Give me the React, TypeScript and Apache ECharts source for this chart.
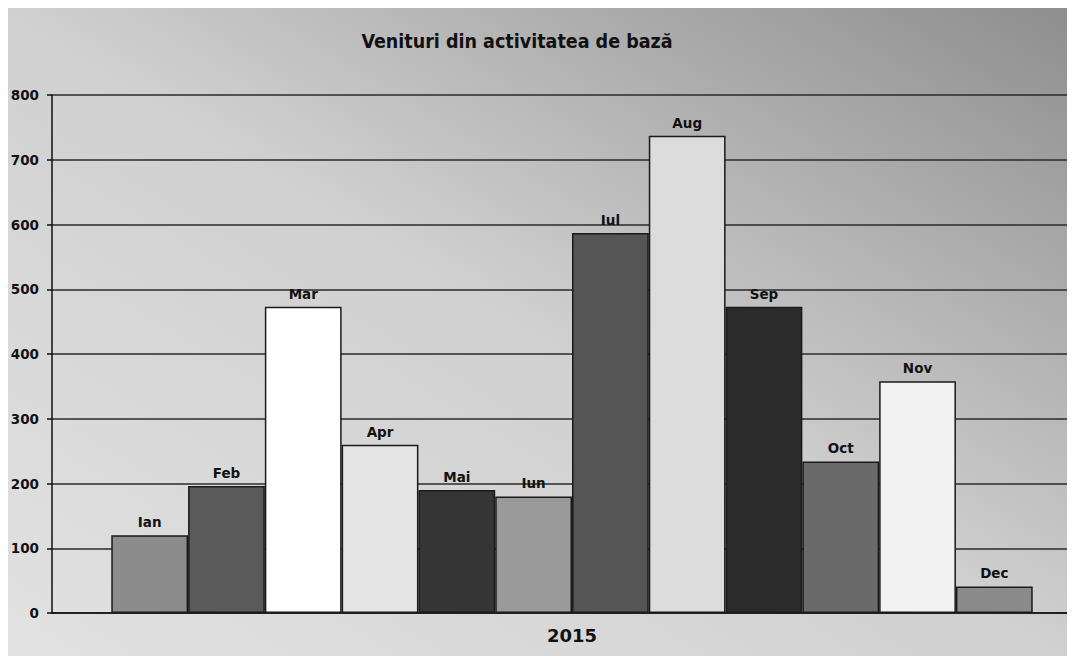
import React, { useEffect, useRef } from "react";
import * as echarts from "echarts";

const title = "Venituri din activitatea de bază";
const categories = ["2015"];
const months = ["Ian", "Feb", "Mar", "Apr", "Mai", "Iun", "Iul", "Aug", "Sep", "Oct", "Nov", "Dec"];
const values = [120, 196, 473, 260, 190, 180, 587, 737, 473, 234, 358, 41];
const colors = ["#8c8c8c", "#5a5a5a", "#ffffff", "#e4e4e4", "#353535", "#9a9a9a", "#555555", "#dcdcdc", "#2b2b2b", "#6a6a6a", "#f2f2f2", "#8a8a8a"];

export default function App() {
  const ref = useRef<HTMLDivElement>(null);
  useEffect(() => {
    const chart = echarts.init(ref.current!, null, { renderer: "svg" });
    chart.setOption({
      animation: false,
      backgroundColor: new echarts.graphic.LinearGradient(0, 1, 1, 0, [
        { offset: 0, color: "#e2e2e2" },
        { offset: 0.5, color: "#d0d0d0" },
        { offset: 1, color: "#8e8e8e" },
      ]),
      title: {
        text: title,
        left: 504,
        top: 18,
        textAlign: "center",
        textStyle: { fontFamily: "DejaVu Sans Condensed", fontWeight: "bold", fontSize: 19.5, color: "#111" },
      },
      grid: { left: 44, top: 87, width: 1040, height: 518, containLabel: false, outerBoundsMode: "none" },
      xAxis: {
        type: "category",
        data: categories,
        axisLine: { show: true, lineStyle: { color: "#111", width: 1.5 } },
        axisTick: { show: false },
        axisLabel: { fontFamily: "DejaVu Sans", fontWeight: "bold", fontSize: 18, color: "#111", margin: 13 },
      },
      yAxis: {
        type: "value",
        min: 0,
        max: 800,
        interval: 100,
        axisLine: { show: true, lineStyle: { color: "#111", width: 1.5 } },
        axisTick: { show: true, length: 5, lineStyle: { color: "#111", width: 1.5 } },
        axisLabel: { fontFamily: "DejaVu Sans", fontWeight: "bold", fontSize: 13.5, color: "#111", margin: 13 },
        splitLine: { show: true, lineStyle: { color: "#2a2a2a", width: 1.5 } },
      },
      series: months.map((m, i) => ({
        name: m,
        type: "bar",
        data: [values[i]],
        barGap: "0%",
        barCategoryGap: "11.4%",
        itemStyle: { color: colors[i], borderColor: "#1a1a1a", borderWidth: 1.5 },
        label: {
          show: true,
          position: "top",
          distance: 6,
          formatter: m,
          fontFamily: "DejaVu Sans",
          fontWeight: "bold",
          fontSize: 13.5,
          color: "#111",
        },
      })),
    });
    return () => chart.dispose();
  }, []);
  return <div ref={ref} style={{ width: 1067, height: 648 }} />;
}
